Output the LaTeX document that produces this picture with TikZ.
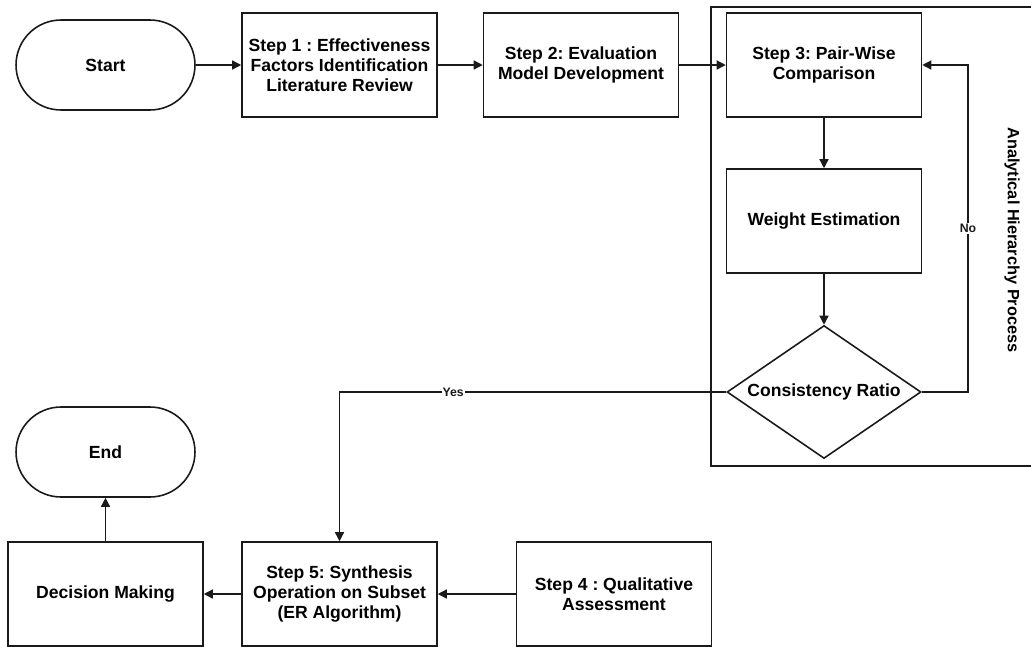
\documentclass[tikz,border=0pt]{standalone}
\usepackage{fontspec}
\setmainfont{Liberation Sans}
\frenchspacing
\usepackage{tikz}
\usetikzlibrary{arrows.meta,positioning,shapes.geometric}
\definecolor{cK}{HTML}{1a1a1a}
\tikzset{
  stepbox/.style={rectangle,draw=cK,line width=0.9pt,fill=white,
              minimum width=3.9cm,minimum height=2.08cm,inner sep=2pt,
              align=center,font=\bfseries\fontsize{10}{11.3}\selectfont},
  term/.style={rectangle,rounded corners=0.9cm,draw=cK,line width=0.9pt,
              fill=white,minimum width=3.58cm,minimum height=1.8cm,
              align=center,font=\bfseries\fontsize{10}{11.3}\selectfont},
  decide/.style={diamond,draw=cK,line width=0.9pt,fill=white,inner sep=0pt,
              aspect=1.46,minimum width=3.88cm,minimum height=2.66cm,
              font=\bfseries\fontsize{10}{11.3}\selectfont},
  flow/.style={-{Triangle[length=1.8mm,width=1.8mm]},line width=0.75pt,cK},
  lbl/.style={fill=white,inner sep=0.6pt,font=\bfseries\fontsize{7}{8}\selectfont},
}
\begin{document}
\begin{tikzpicture}[x=0.02cm,y=-0.02cm]
  \useasboundingbox (0,0) rectangle (1031,646);
  % AHP frame, runs off the right edge
  \draw[cK,line width=1pt] (1045,7) -- (711,7) -- (711,466) -- (1045,466);
  \node[rotate=-90,font=\bfseries\fontsize{9.3}{11}\selectfont] (ahp) at (1012,240)
    {Analytical Hierarchy Process};

  % top row
  \node[term] (start) at (105.5,65) {Start};
  \node[stepbox] (s1) at (339.5,65) {Step 1 : Effectiveness\\Factors Identification\\Literature Review};
  \node[stepbox] (s2) at (581,65) {Step 2: Evaluation\\Model Development};
  \node[stepbox] (s3) at (824,65) {Step 3: Pair-Wise\\Comparison};

  % inside AHP
  \node[stepbox] (we) at (824,221) {Weight Estimation};
  \node[decide] (cr) at (824,392) {Consistency Ratio};
  \coordinate (noturn) at (968,392);

  % bottom row
  \node[term] (end) at (105.5,452) {End};
  \node[stepbox] (dm) at (105.5,594) {Decision Making};
  \node[stepbox] (s5) at (339.5,594) {Step 5: Synthesis\\Operation on Subset\\(ER Algorithm)};
  \node[stepbox] (s4) at (614,594) {Step 4 : Qualitative\\Assessment};

  \draw[flow] (start) -- (s1);
  \draw[flow] (s1) -- (s2);
  \draw[flow] (s2) -- (s3);
  \draw[flow] (s3) -- (we);
  \draw[flow] (we) -- (cr);
  \draw[flow] (cr.east) -- (noturn) |- node[lbl,pos=0.25]{No} (s3.east);
  \draw[flow] (cr.west) -| node[lbl,pos=0.353]{Yes} (s5.north);
  \draw[flow] (s4) -- (s5);
  \draw[flow] (s5) -- (dm);
  \draw[flow] (dm) -- (end);
\end{tikzpicture}
\end{document}
